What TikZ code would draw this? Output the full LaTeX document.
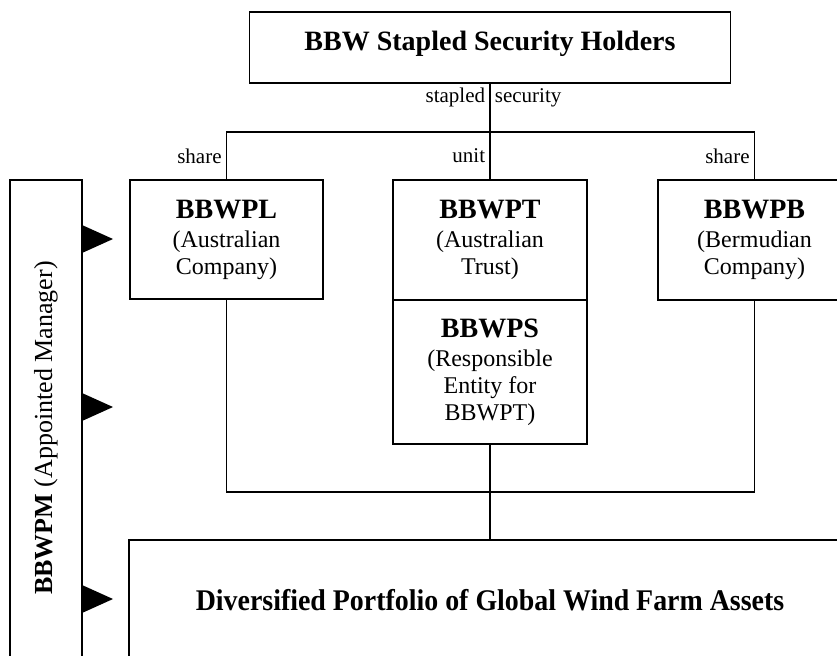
\documentclass[tikz,border=0pt]{standalone}
\usepackage{fontspec}
\setmainfont{Liberation Serif}
\usepackage{graphicx}
\usetikzlibrary{positioning, arrows.meta}

\begin{document}
\begin{tikzpicture}[
    x=0.5pt, y=-0.5pt,
    line width=0.9pt,
    every node/.style={align=center},
    box/.style={draw, rectangle, outer sep=0pt, inner sep=0pt, font=\fontsize{12}{13.5}\selectfont},
    title/.style={font=\bfseries\fontsize{14}{16}\selectfont},
    note/.style={font=\fontsize{10.5}{12}\selectfont, inner sep=2pt},
    pointer/.style={-{Triangle[length=15.5pt, width=14pt]}, line width=0pt}
]
\useasboundingbox (0,0) rectangle (837,655);
\clip (0,0) rectangle (837,655);

% Nodes
\node[box, title, minimum width=240.5pt, minimum height=35.5pt, text depth=7pt] (holders) at (490,47.5) {BBW Stapled Security Holders};
\node[box, minimum width=96.5pt, minimum height=59.5pt] (bbwpl) at (226.5,239.5) {{\bfseries\fontsize{14}{16}\selectfont BBWPL}\\[1pt](Australian\\Company)};
\node[box, minimum width=97pt, minimum height=60pt] (bbwpt) at (490,240) {{\bfseries\fontsize{14}{16}\selectfont BBWPT}\\[1pt](Australian\\Trust)};
\node[box, minimum width=97pt, minimum height=72pt, below=0pt of bbwpt] (bbwps) {{\bfseries\fontsize{14}{16}\selectfont BBWPS}\\[1pt](Responsible\\Entity for\\BBWPT)};
\node[box, minimum width=96.5pt, minimum height=60pt] (bbwpb) at (754.5,240) {{\bfseries\fontsize{14}{16}\selectfont BBWPB}\\[1pt](Bermudian\\Company)};
\node[box, minimum width=361pt, minimum height=60pt] (portfolio) at (490,600) {\scalebox{0.93}[1]{\bfseries\fontsize{15}{17}\selectfont Diversified Portfolio of Global Wind Farm Assets}};
\node[box, rotate=90, minimum width=248pt, minimum height=36pt, font=\fontsize{13}{15}\selectfont] (manager) at (46,428) {\textbf{BBWPM} (Appointed Manager)};

\coordinate (split) at (490,132);
\coordinate (join) at (490,492);

% Connectors
\draw (holders.south) -- node[note, pos=0.3, left] {stapled} node[note, pos=0.3, right] {security} (split);
\draw (bbwpl.north) -- node[note, left] {share} (bbwpl.north |- split) -- (bbwpb.north |- split) -- node[note, left] {share} (bbwpb.north);
\draw (split) -- node[note, left] {unit} (bbwpt.north);
\draw (bbwpl.south) |- (join) -| (bbwpb.south);
\draw (bbwps.south) -- (portfolio.north);

% Manager pointers
\foreach \y in {239,407,599}
    \draw[pointer] (manager.south |- 0,\y) -- ++(31,0);

\end{tikzpicture}
\end{document}
